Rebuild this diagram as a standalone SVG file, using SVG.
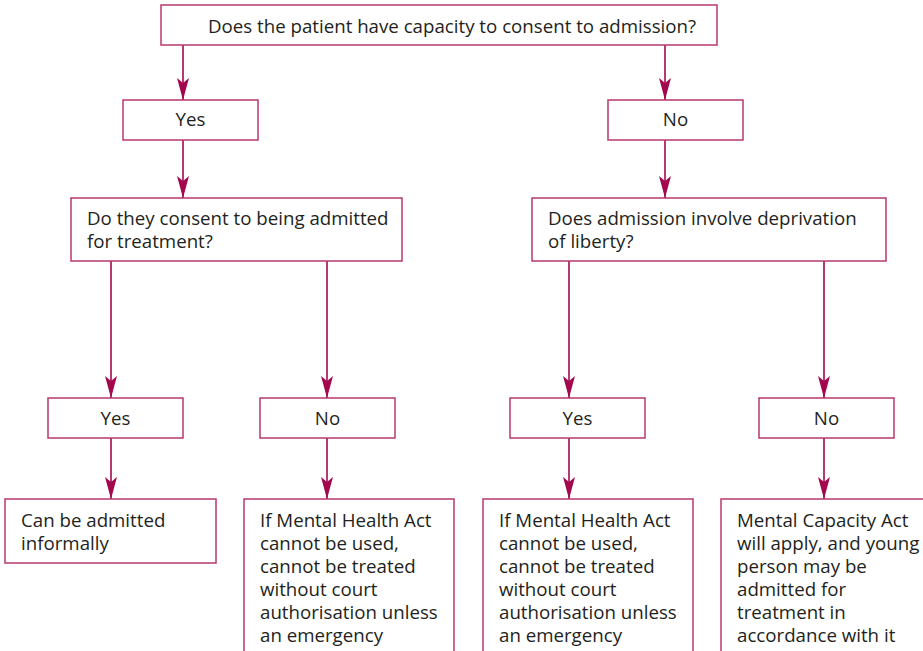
<svg xmlns="http://www.w3.org/2000/svg" width="923" height="651" viewBox="0 0 923 651">
<defs>
<style>
.box{fill:#fff;stroke:#b8386e;stroke-width:1.5}
.t{font-family:"Open Sans","Liberation Sans",Arial,sans-serif;font-size:18.7px;fill:#231f20}
.c{text-anchor:middle}
.ln{stroke:#a3084f;stroke-width:1.6;fill:none;marker-end:url(#ah)}
</style>
<marker id="ah" markerUnits="userSpaceOnUse" viewBox="0 0 22 12" markerWidth="22" markerHeight="12" refX="22" refY="6" orient="auto">
<path d="M0,0 L22,6 L0,12 L5,6 Z" fill="#a3084f"/>
</marker>
</defs>
<rect width="923" height="651" fill="#fff"/>
<g id="connectors">
<line class="ln" x1="183" y1="45" x2="183" y2="100"/>
<line class="ln" x1="665" y1="45" x2="665" y2="100"/>
<line class="ln" x1="183" y1="140" x2="183" y2="198"/>
<line class="ln" x1="665" y1="140" x2="665" y2="198"/>
<line class="ln" x1="111" y1="261" x2="111" y2="398"/>
<line class="ln" x1="327" y1="261" x2="327" y2="398"/>
<line class="ln" x1="569" y1="261" x2="569" y2="398"/>
<line class="ln" x1="824" y1="261" x2="824" y2="398"/>
<line class="ln" x1="111" y1="438" x2="111" y2="499"/>
<line class="ln" x1="327" y1="438" x2="327" y2="499"/>
<line class="ln" x1="569" y1="438" x2="569" y2="499"/>
<line class="ln" x1="824" y1="438" x2="824" y2="499"/>
</g>
<g id="q-capacity">
<rect class="box" x="161" y="5" width="556" height="40"/>
<text class="t c" x="452" y="33">Does the patient have capacity to consent to admission?</text>
</g>
<g id="yes1">
<rect class="box" x="123" y="100" width="135" height="40"/>
<text class="t c" x="190.5" y="126">Yes</text>
</g>
<g id="no1">
<rect class="box" x="608" y="100" width="135" height="40"/>
<text class="t c" x="675.5" y="126">No</text>
</g>
<g id="q-consent">
<rect class="box" x="71" y="198" width="331" height="63"/>
<text class="t" x="87" y="225">Do they consent to being admitted</text>
<text class="t" x="87" y="248">for treatment?</text>
</g>
<g id="q-liberty">
<rect class="box" x="532" y="198" width="354" height="63"/>
<text class="t" x="548" y="225">Does admission involve deprivation</text>
<text class="t" x="548" y="248">of liberty?</text>
</g>
<g id="yes2">
<rect class="box" x="48" y="398" width="135" height="40"/>
<text class="t c" x="115.5" y="425">Yes</text>
</g>
<g id="no2">
<rect class="box" x="260" y="398" width="135" height="40"/>
<text class="t c" x="327.5" y="425">No</text>
</g>
<g id="yes3">
<rect class="box" x="510" y="398" width="135" height="40"/>
<text class="t c" x="577.5" y="425">Yes</text>
</g>
<g id="no3">
<rect class="box" x="759" y="398" width="135" height="40"/>
<text class="t c" x="826.5" y="425">No</text>
</g>
<g id="informal">
<rect class="box" x="5" y="499" width="211" height="64"/>
<text class="t" x="21" y="527">Can be admitted</text>
<text class="t" x="21" y="550">informally</text>
</g>
<g id="mha-left">
<rect class="box" x="244" y="499" width="210" height="160"/>
<text class="t" x="260" y="527">If Mental Health Act</text>
<text class="t" x="260" y="550">cannot be used,</text>
<text class="t" x="260" y="573">cannot be treated</text>
<text class="t" x="260" y="596">without court</text>
<text class="t" x="260" y="619">authorisation unless</text>
<text class="t" x="260" y="642">an emergency</text>
</g>
<g id="mha-right">
<rect class="box" x="483" y="499" width="210" height="160"/>
<text class="t" x="499" y="527">If Mental Health Act</text>
<text class="t" x="499" y="550">cannot be used,</text>
<text class="t" x="499" y="573">cannot be treated</text>
<text class="t" x="499" y="596">without court</text>
<text class="t" x="499" y="619">authorisation unless</text>
<text class="t" x="499" y="642">an emergency</text>
</g>
<g id="mca">
<rect class="box" x="721" y="499" width="210" height="160"/>
<text class="t" x="737" y="527">Mental Capacity Act</text>
<text class="t" x="737" y="550">will apply, and young</text>
<text class="t" x="737" y="573">person may be</text>
<text class="t" x="737" y="596">admitted for</text>
<text class="t" x="737" y="619">treatment in</text>
<text class="t" x="737" y="642">accordance with it</text>
</g>
</svg>
